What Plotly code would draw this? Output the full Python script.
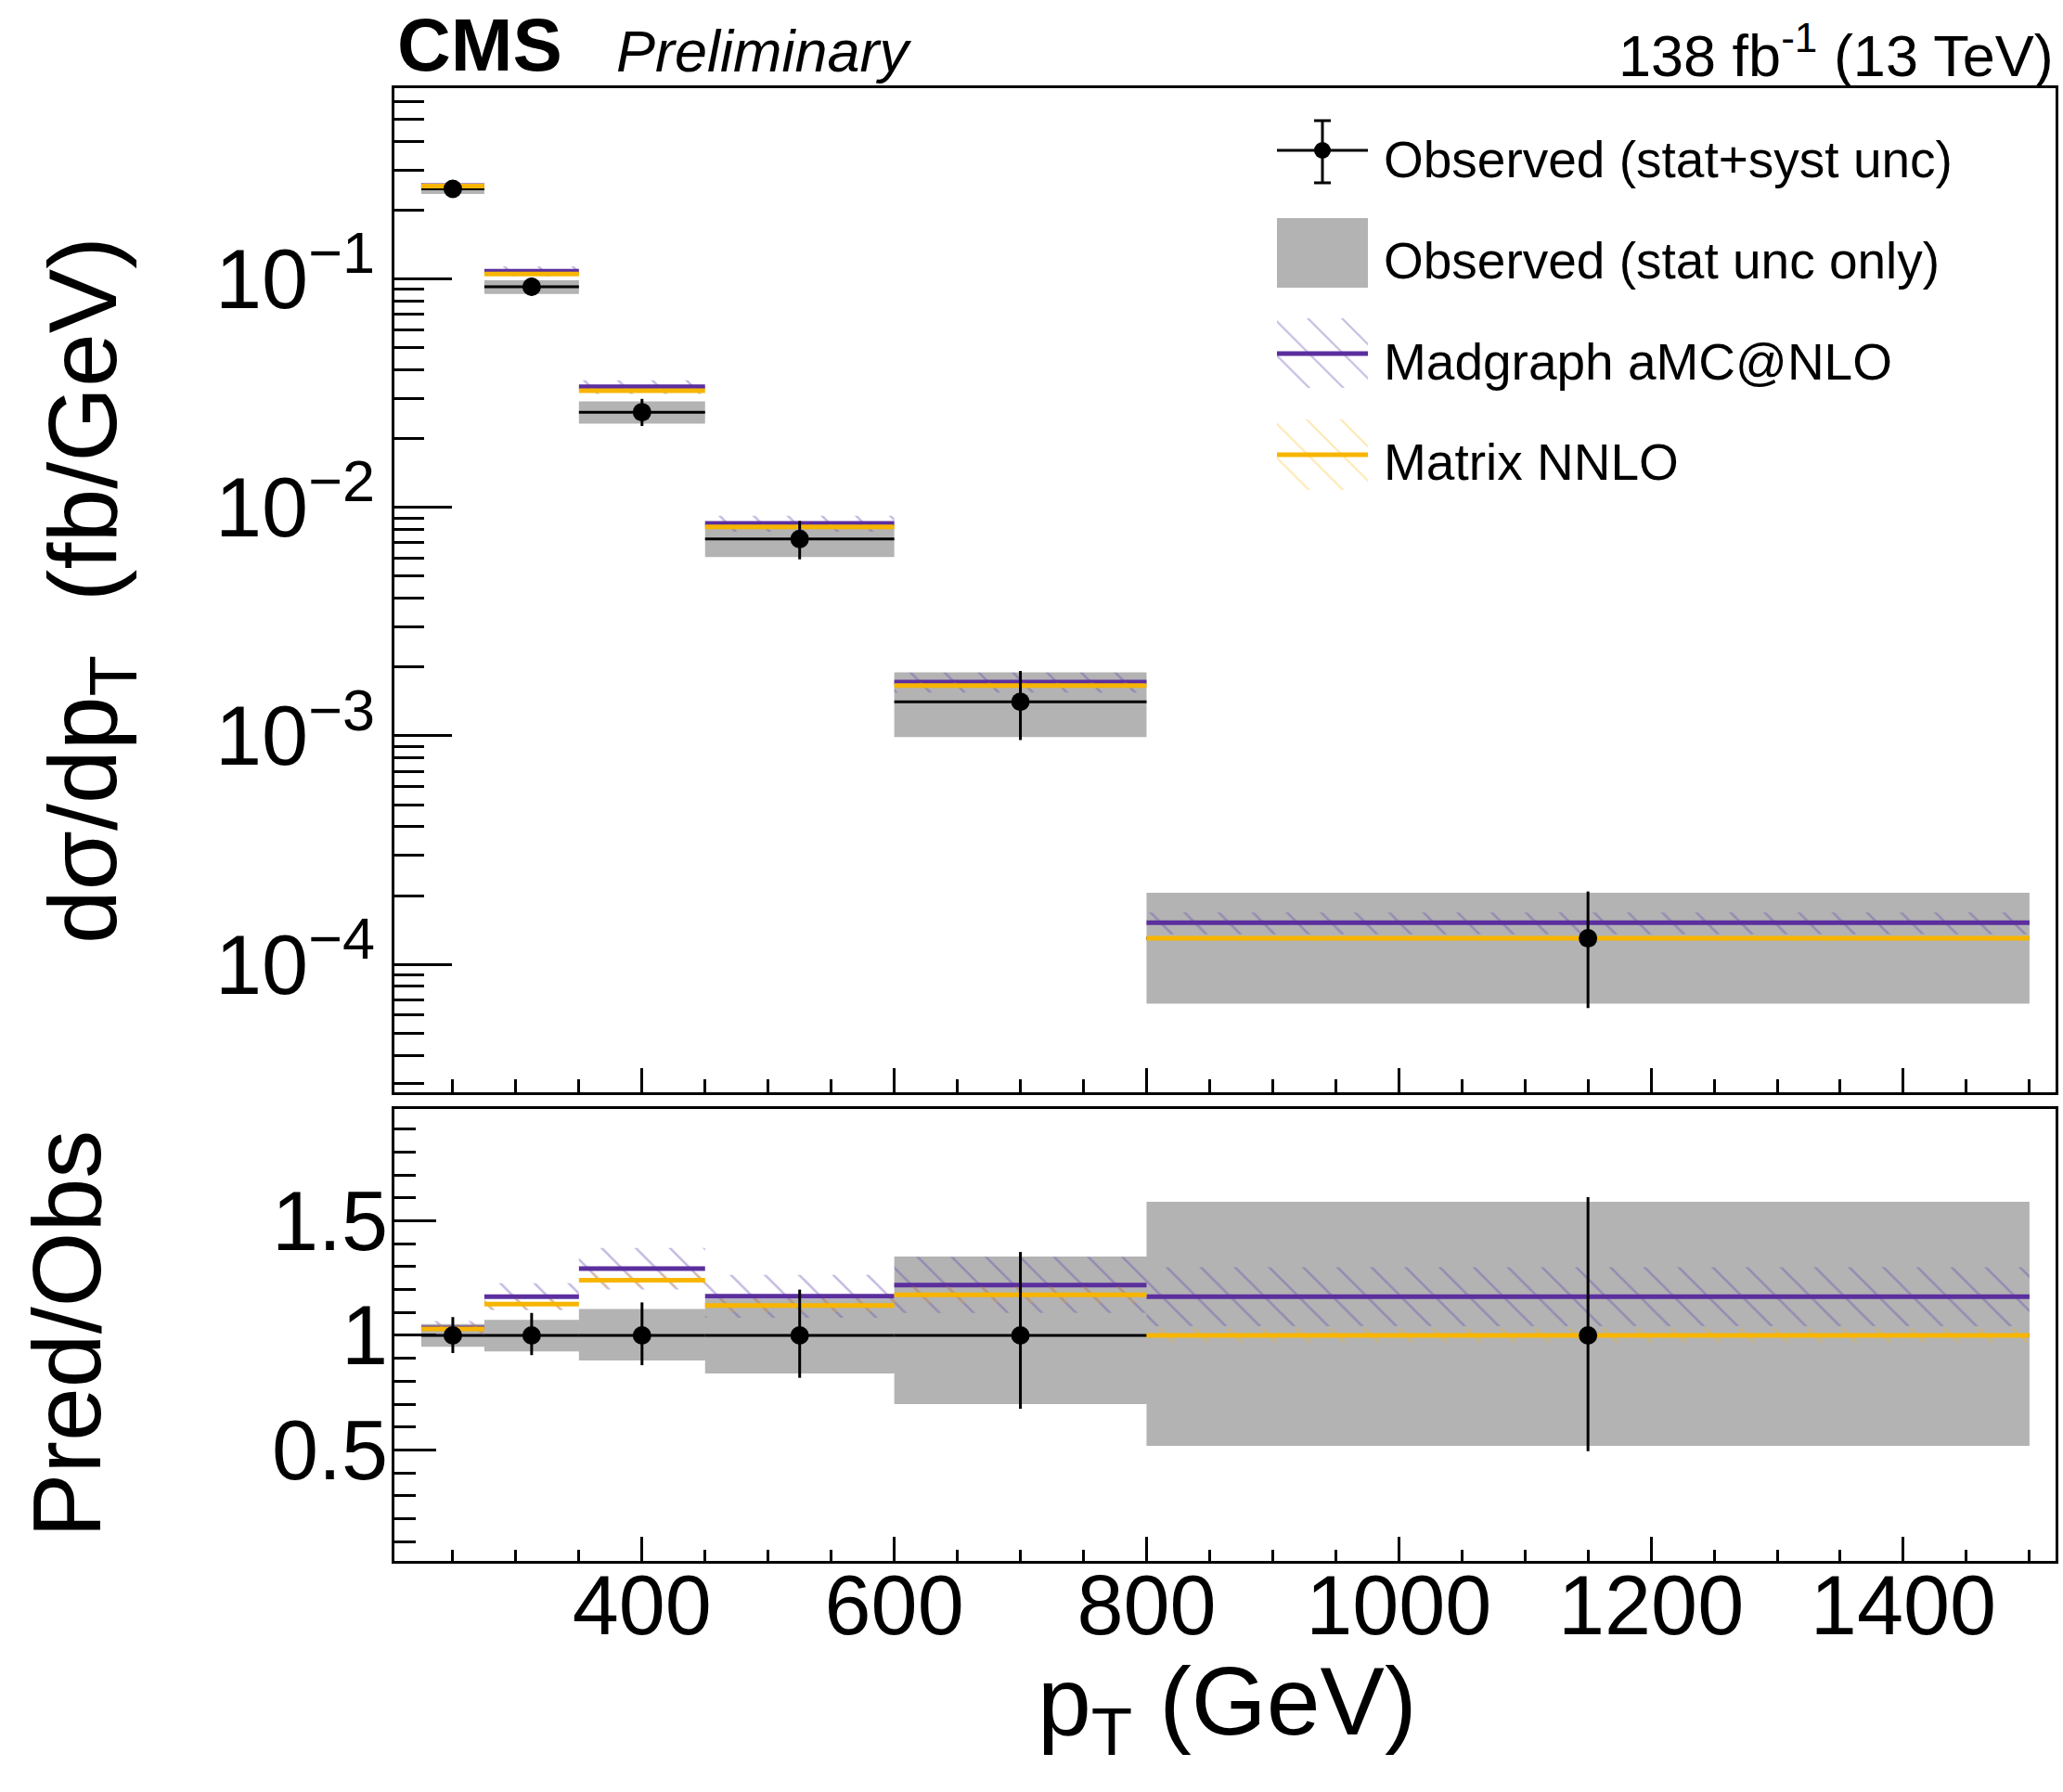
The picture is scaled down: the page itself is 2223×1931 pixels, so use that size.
import plotly.graph_objects as go

W, H = 2223, 1931
FONT = "Liberation Sans, Arial, Helvetica, sans-serif"

# ---------------- data ----------------
bin_edges = [225, 275, 350, 450, 600, 800, 1500]
obs = [0.248, 0.0924, 0.0261, 0.00727, 0.00141, 0.000130]
stat_up = [0.05, 0.068, 0.115, 0.16, 0.344, 0.583]
stat_dn = [0.05, 0.07, 0.109, 0.166, 0.30, 0.482]
tot_up = [0.08, 0.098, 0.144, 0.20, 0.364, 0.603]
tot_dn = [0.077, 0.086, 0.13, 0.185, 0.32, 0.505]
madgraph = [0.256, 0.108, 0.0337, 0.00851, 0.00172, 0.000152]
madgraph_unc = [0.03, 0.05, 0.07, 0.08, 0.10, 0.11]
matrix = [0.255, 0.105, 0.0324, 0.00822, 0.00166, 0.000130]
matrix_unc = [0.02, 0.02, 0.025, 0.025, 0.03, 0.03]

legend_labels = ["Observed (stat+syst unc)", "Observed (stat unc only)",
                 "Madgraph aMC@NLO", "Matrix NNLO"]
top_tickvals = [1e-4, 1e-3, 1e-2, 1e-1]
top_ticktext = ["10<sup>\u22124</sup>", "10<sup>\u22123</sup>",
                "10<sup>\u22122</sup>", "10<sup>\u22121</sup>"]
ratio_tickvals = [0.5, 1, 1.5]
ratio_ticktext = ["0.5", "1", "1.5"]
x_tickvals = [400, 600, 800, 1000, 1200, 1400]

# ---------------- styles ----------------
GRAY = "#b3b3b3"
PURPLE = "#5b2f9e"
ORANGE = "#f7b500"
PURPLE_HATCH = "rgba(100,70,175,0.75)"
ORANGE_HATCH = "rgba(247,181,0,0.6)"

lo = bin_edges[:-1]
hi = bin_edges[1:]
ctr = [(a + b) / 2 for a, b in zip(lo, hi)]
nb = len(obs)


def rect_path(ylo, yhi):
    xs, ys = [], []
    for i in range(nb):
        xs += [lo[i], hi[i], hi[i], lo[i], lo[i], None]
        ys += [ylo[i], ylo[i], yhi[i], yhi[i], ylo[i], None]
    return xs, ys


def step_path(v):
    xs, ys = [], []
    for i in range(nb):
        xs += [lo[i], hi[i], None]
        ys += [v[i], v[i], None]
    return xs, ys


fig = go.Figure()


def add_panel(xa, ya, central, s_up, s_dn, t_up, t_dn, mg, mgu, mx, mxu):
    # stat band
    x, y = rect_path([c * (1 - d) for c, d in zip(central, s_dn)],
                     [c * (1 + u) for c, u in zip(central, s_up)])
    fig.add_trace(go.Scatter(x=x, y=y, xaxis=xa, yaxis=ya, mode="lines", fill="toself",
                             fillcolor=GRAY, line=dict(width=0), hoverinfo="skip",
                             showlegend=False))
    # data horizontal (bin width) bars
    x, y = step_path(central)
    fig.add_trace(go.Scatter(x=x, y=y, xaxis=xa, yaxis=ya, mode="lines",
                             line=dict(color="black", width=3), hoverinfo="skip",
                             showlegend=False))
    # prediction hatch bands + central lines
    for vals, unc, col, hcol in ((mg, mgu, PURPLE, PURPLE_HATCH), (mx, mxu, ORANGE, ORANGE_HATCH)):
        x, y = rect_path([v * (1 - u) for v, u in zip(vals, unc)],
                         [v * (1 + u) for v, u in zip(vals, unc)])
        fig.add_trace(go.Scatter(x=x, y=y, xaxis=xa, yaxis=ya, mode="lines", fill="toself",
                                 fillcolor="rgba(0,0,0,0)", line=dict(width=0),
                                 fillpattern=dict(shape="\\", fgcolor=hcol,
                                                  bgcolor="rgba(0,0,0,0)", size=26,
                                                  solidity=0.1),
                                 hoverinfo="skip", showlegend=False))
        x, y = step_path(vals)
        fig.add_trace(go.Scatter(x=x, y=y, xaxis=xa, yaxis=ya, mode="lines",
                                 line=dict(color=col, width=5), hoverinfo="skip",
                                 showlegend=False))
    # data points with total uncertainty
    fig.add_trace(go.Scatter(
        x=ctr, y=central, xaxis=xa, yaxis=ya, mode="markers",
        marker=dict(color="black", size=20),
        error_y=dict(type="data", symmetric=False,
                     array=[c * u for c, u in zip(central, t_up)],
                     arrayminus=[c * d for c, d in zip(central, t_dn)],
                     color="black", thickness=3, width=0),
        showlegend=False))


# top panel
add_panel("x", "y", obs, stat_up, stat_dn, tot_up, tot_dn,
          madgraph, madgraph_unc, matrix, matrix_unc)
# ratio panel
ones = [1.0] * nb
add_panel("x2", "y2", ones, stat_up, stat_dn, tot_up, tot_dn,
          [m / o for m, o in zip(madgraph, obs)], madgraph_unc,
          [m / o for m, o in zip(matrix, obs)], matrix_unc)

# ---------------- legend (pixel coordinates on a hidden overlay axis) ----------------
LX0, LX1 = 1376, 1474
LXC = (LX0 + LX1) / 2
leg_rows = [162, 272, 381, 490]
leg_text_y = [172, 281, 390, 498]

# item 1: data marker with error bars and caps
fig.add_trace(go.Scatter(x=[LX0, LX1, None, LXC, LXC, None, LXC - 9, LXC + 9, None, LXC - 9, LXC + 9],
                         y=[leg_rows[0], leg_rows[0], None, 130, 197, None, 130, 130, None, 197, 197],
                         xaxis="x3", yaxis="y3", mode="lines", line=dict(color="black", width=3),
                         hoverinfo="skip", showlegend=False))
fig.add_trace(go.Scatter(x=[LXC], y=[leg_rows[0]], xaxis="x3", yaxis="y3", mode="markers",
                         marker=dict(color="black", size=18), hoverinfo="skip", showlegend=False))
# item 2: gray box
fig.add_trace(go.Scatter(x=[LX0, LX1, LX1, LX0, LX0], y=[235, 235, 310, 310, 235],
                         xaxis="x3", yaxis="y3", mode="lines", fill="toself", fillcolor=GRAY,
                         line=dict(width=0), hoverinfo="skip", showlegend=False))
# items 3, 4: hatched boxes with lines
for (y0, y1, yl, col, hcol) in ((343, 418, leg_rows[2], PURPLE, PURPLE_HATCH),
                                (452, 528, leg_rows[3], ORANGE, ORANGE_HATCH)):
    fig.add_trace(go.Scatter(x=[LX0, LX1, LX1, LX0, LX0], y=[y0, y0, y1, y1, y0],
                             xaxis="x3", yaxis="y3", mode="lines", fill="toself",
                             fillcolor="rgba(0,0,0,0)", line=dict(width=0),
                             fillpattern=dict(shape="\\", fgcolor=hcol, bgcolor="rgba(0,0,0,0)",
                                              size=26, solidity=0.08),
                             hoverinfo="skip", showlegend=False))
    fig.add_trace(go.Scatter(x=[LX0, LX1], y=[yl, yl], xaxis="x3", yaxis="y3", mode="lines",
                             line=dict(color=col, width=5), hoverinfo="skip", showlegend=False))

annotations = []
for lab, ty in zip(legend_labels, leg_text_y):
    annotations.append(dict(x=1489, y=ty, xref="x3", yref="y3", text=lab, showarrow=False,
                            xanchor="left", yanchor="middle",
                            font=dict(family=FONT, size=55, color="black")))

# header texts
annotations += [
    dict(x=426, y=48, xref="x3", yref="y3", text="<b>CMS</b>", showarrow=False,
         xanchor="left", yanchor="middle", font=dict(family=FONT, size=80, color="black")),
    dict(x=662, y=55, xref="x3", yref="y3", text="<i>Preliminary</i>", showarrow=False,
         xanchor="left", yanchor="middle", font=dict(family=FONT, size=63, color="black")),
    dict(x=2215, y=55, xref="x3", yref="y3", text="138 fb<sup>-1</sup> (13 TeV)", showarrow=False,
         xanchor="right", yanchor="middle", font=dict(family=FONT, size=63, color="black")),
    # axis titles
    dict(x=96, y=636, xref="x3", yref="y3", text="d\u03c3/dp<sub>T</sub>  (fb/GeV)",
         showarrow=False, textangle=-90, xanchor="center", yanchor="middle",
         font=dict(family=FONT, size=104, color="black")),
    dict(x=72, y=1438, xref="x3", yref="y3", text="Pred/Obs",
         showarrow=False, textangle=-90, xanchor="center", yanchor="middle",
         font=dict(family=FONT, size=104, color="black")),
    dict(x=1322, y=1840, xref="x3", yref="y3", text="p<sub>T</sub> (GeV)",
         showarrow=False, xanchor="center", yanchor="middle",
         font=dict(family=FONT, size=104, color="black")),
]

# ---------------- axes ----------------
XR = [203.7, 1520.7]
X_DOM = [425 / W, 2215 / W]
TOP_DOM = [(H - 1177) / H, (H - 95) / H]
BOT_DOM = [(H - 1682) / H, (H - 1195) / H]

minor_log = []
for e in range(-5, 0):
    for m in range(2, 10):
        minor_log.append(m * 10 ** e)

axis_common = dict(showline=True, linecolor="black", linewidth=3, mirror=True,
                   showgrid=False, zeroline=False, ticks="inside", tickcolor="black",
                   tickwidth=3, tickfont=dict(family=FONT, size=90, color="black"))

fig.update_layout(
    width=W, height=H, autosize=False,
    margin=dict(l=0, r=0, t=0, b=0),
    paper_bgcolor="white", plot_bgcolor="rgba(0,0,0,0)",
    showlegend=False,
    annotations=annotations,
    xaxis=dict(domain=X_DOM, anchor="y", range=XR, tickvals=x_tickvals,
               showticklabels=False, ticklen=26,
               minor=dict(dtick=50, tick0=0, ticks="inside", ticklen=14, tickwidth=3,
                          tickcolor="black"),
               **axis_common),
    yaxis=dict(domain=TOP_DOM, anchor="x", type="log", range=[-4.56, -0.165],
               tickvals=top_tickvals, ticktext=top_ticktext, ticklen=62,
               ticklabelstandoff=0,
               minor=dict(tickmode="array", tickvals=minor_log, ticks="inside", ticklen=32,
                          tickwidth=3, tickcolor="black"),
               **axis_common),
    xaxis2=dict(domain=X_DOM, anchor="y2", range=XR, tickvals=x_tickvals, ticklen=26,
                ticklabelstandoff=-32,
                minor=dict(dtick=50, tick0=0, ticks="inside", ticklen=12, tickwidth=3,
                           tickcolor="black"),
                **axis_common),
    yaxis2=dict(domain=BOT_DOM, anchor="x2", range=[0.016, 1.988],
                tickvals=ratio_tickvals, ticktext=ratio_ticktext, ticklen=45,
                ticklabelstandoff=-14,
                minor=dict(dtick=0.1, tick0=0, ticks="inside", ticklen=23, tickwidth=3,
                           tickcolor="black"),
                **axis_common),
    xaxis3=dict(domain=[0, 1], anchor="y3", range=[0, W], visible=False, fixedrange=True),
    yaxis3=dict(domain=[0, 1], anchor="x3", range=[H, 0], visible=False, fixedrange=True),
)

fig.write_html("out.html")
